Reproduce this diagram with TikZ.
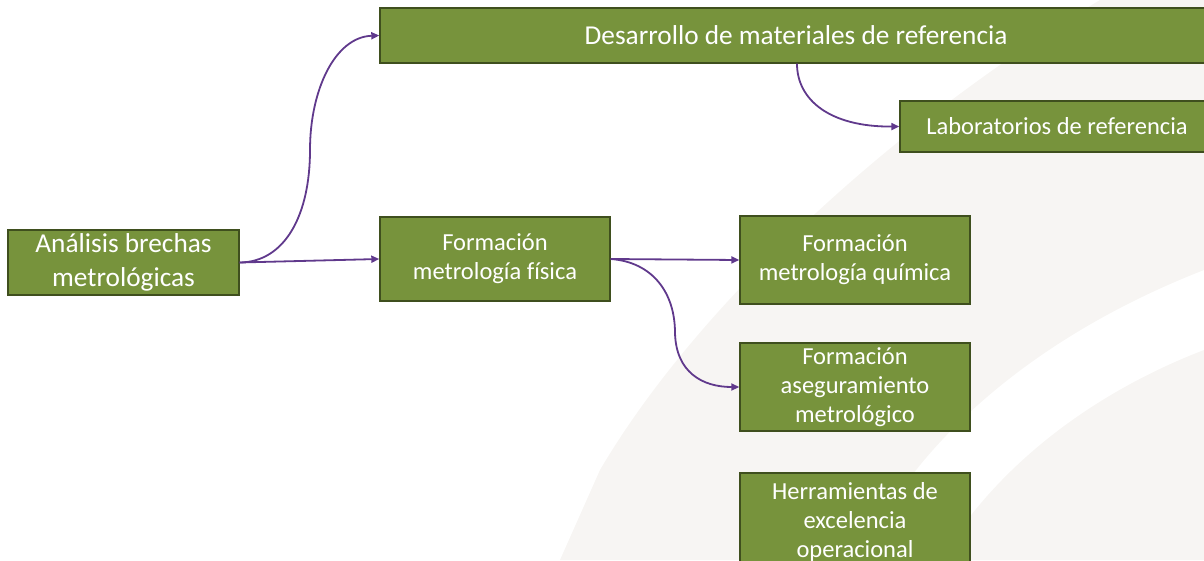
\documentclass[tikz,border=0pt]{standalone}
\usepackage{fontspec}
\setmainfont[Ligatures=NoCommon]{Carlito}
\usetikzlibrary{arrows.meta}
\definecolor{boxfill}{HTML}{77933C}
\definecolor{boxedge}{HTML}{3F4F1E}
\definecolor{arrowcol}{RGB}{96,57,140}
\definecolor{wmark}{HTML}{F7F5F3}
\tikzset{
  gbox/.style={draw=boxedge, line width=1.4pt, fill=boxfill, text=white, align=center, inner sep=0pt},
  bigtxt/.style={font=\fontsize{27.3}{34}\selectfont},
  midtxt/.style={font=\fontsize{24.5}{29}\selectfont},
  conn/.style={draw=arrowcol, line width=1.8pt, -{Triangle[length=8pt,width=7pt]}}
}
\begin{document}
\begin{tikzpicture}[x=1pt,y=-1pt]
\useasboundingbox (0,0) rectangle (1204,560);
\clip (0,0) rectangle (1204,560);
% faint watermark
\fill[wmark] (560,560) -- (600,470) .. controls (700,300) and (900,120) .. (1100,0) -- (1204,0) -- (1204,270) .. controls (1050,330) and (920,430) .. (860,560) -- cycle;
\fill[wmark] (940,560) .. controls (1000,460) and (1100,390) .. (1204,350) -- (1204,560) -- cycle;
% boxes
\node[gbox, bigtxt, minimum width=231pt, minimum height=65pt] (A) at (123.5,262.5) {Análisis brechas\\metrológicas};
\node[gbox, bigtxt, minimum width=832pt, minimum height=55pt] (D) at (796,35.5) {Desarrollo de materiales de referencia};
\node[gbox, midtxt, minimum width=314pt, minimum height=51pt] (L) at (1057,126.5) {Laboratorios de referencia};
\node[gbox, midtxt, minimum width=230pt, minimum height=84pt] (F) at (495,259) {Formación\\metrología física};
\node[gbox, midtxt, minimum width=230pt, minimum height=88pt] (Q) at (855,260) {Formación\\metrología química};
\node[gbox, midtxt, minimum width=230pt, minimum height=88pt] (S) at (855,387) {Formación\\aseguramiento\\metrológico};
\node[gbox, midtxt, minimum width=230pt, minimum height=100pt] (H) at (855,523) {\raisebox{2pt}{\begin{tabular}{@{}c@{}}Herramientas de\\excelencia\\operacional\end{tabular}}};
% connectors
\draw[conn] (A.east) .. controls (285,262) and (310,215) .. (310,150) .. controls (310,90) and (335,37) .. (D.west);
\draw[conn] (A.east) -- (F.west);
\draw[conn] (D.south -| 797,0) .. controls (797,100) and (830,127) .. (L.west);
\draw[conn] (F.east) -- (Q.west);
\draw[conn] (F.east) .. controls (652,262) and (675,292) .. (675,333) .. controls (676,372) and (702,387) .. (S.west);
\end{tikzpicture}
\end{document}
